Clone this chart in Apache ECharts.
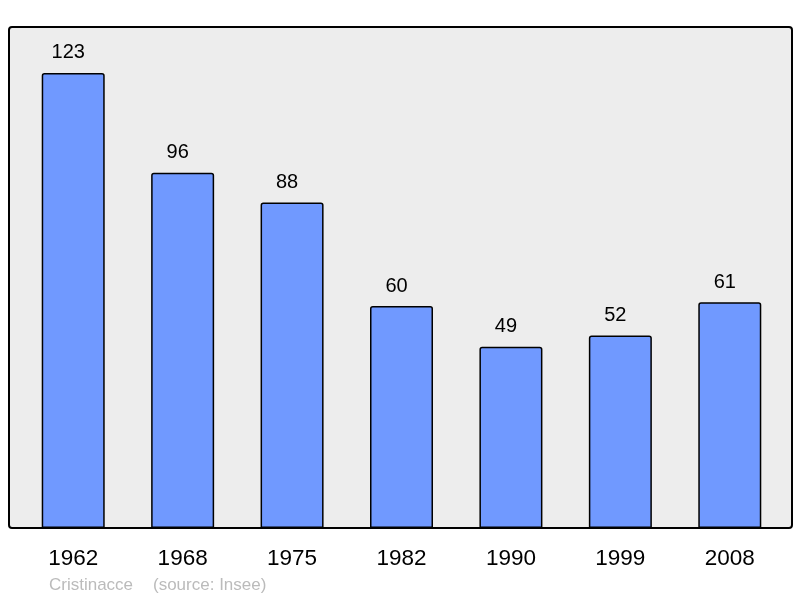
<!DOCTYPE html>
<html>
<head>
<meta charset="utf-8">
<script src="https://cdn.jsdelivr.net/npm/echarts@6/dist/echarts.min.js"></script>
<style>
  html, body { margin: 0; padding: 0; background: #fff; }
  #chart { width: 800px; height: 598px; }
</style>
</head>
<body>
<div id="chart"></div>
<script>
var years = ['1962', '1968', '1975', '1982', '1990', '1999', '2008'];
var population = [123, 96, 88, 60, 49, 52, 61];
var footerLeft = 'Cristinacce';
var footerRight = '(source: Insee)';

var chart = echarts.init(document.getElementById('chart'));

var option = {
    animation: false,
    textStyle: { fontFamily: 'Liberation Sans' },
    graphic: [
        {
            type: 'rect',
            z: -10,
            shape: { x: 9, y: 27, width: 783, height: 501, r: 3 },
            style: { fill: '#ededed', stroke: '#000', lineWidth: 2 }
        },
        {
            type: 'text',
            left: 49, top: 577,
            style: { text: footerLeft, fill: '#bbbbbb', font: '17px "Liberation Sans"' }
        },
        {
            type: 'text',
            left: 153, top: 577,
            style: { text: footerRight, fill: '#bbbbbb', font: '17px "Liberation Sans"' }
        }
    ],
    grid: { left: 18.5, width: 766, top: 27, height: 501 },
    xAxis: {
        type: 'category',
        data: years,
        axisLine: { show: false },
        axisTick: { show: false },
        axisLabel: { color: '#000', fontSize: 22.5, margin: 19 }
    },
    yAxis: {
        type: 'value',
        min: 0,
        max: 135.4,
        show: false,
        splitLine: { show: false }
    },
    series: [
        {
            type: 'bar',
            data: population,
            barWidth: 63,
            itemStyle: {
                color: '#7099ff',
                borderColor: '#000',
                borderWidth: 1.5,
                borderRadius: [2, 2, 0, 0]
            },
            label: {
                show: true,
                position: 'top',
                distance: 10,
                offset: [-5, 0],
                color: '#000',
                fontSize: 20
            }
        }
    ]
};

chart.setOption(option);
</script>
</body>
</html>
